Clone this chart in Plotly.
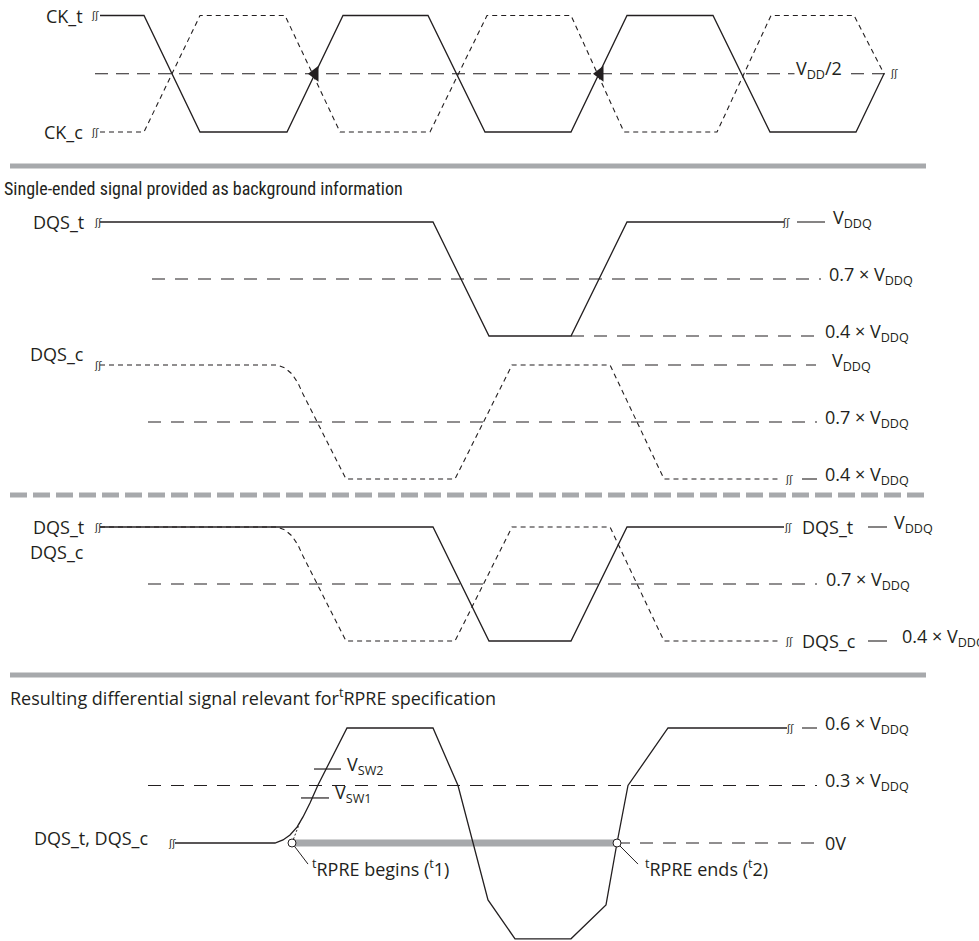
import plotly.graph_objects as go

# ---------------- data (time units along x, levels as fraction of supply) ----------------
# CK panel: 1 = high, 0 = low, 0.5 = VDD/2
ck_t_time = [100, 144, 200, 287, 343, 428, 485, 571, 627, 713, 770, 856, 884]
ck_t_level = [1, 1, 0, 0, 1, 1, 0, 0, 1, 1, 0, 0, 0.5]
ck_c_time = [100, 144, 200, 285, 340, 430, 487, 571, 624, 717, 771, 854, 884]
ck_c_level = [0, 0, 1, 1, 0, 0, 1, 1, 0, 0, 1, 1, 0.5]
ck_ref_time = [95, 893]
ck_ref_level = [0.5, 0.5]
ck_cross_time = [315, 600]
ck_cross_level = [0.5, 0.5]

# single-ended DQS (fraction of VDDQ)
dqs_t_time = [100, 433, 489, 571, 627, 784]
dqs_t_level = [1, 1, 0.4, 0.4, 1, 1]
dqs_c_time = [100, 277, 285, 292, 298, 303, 346, 455, 512, 610, 664, 781]
dqs_c_level = [1, 1, 0.984, 0.953, 0.905, 0.847, 0.4, 0.4, 1, 1, 0.4, 0.4]

se_t_ref07_time = [152, 821]
se_t_ref04_time = [571, 816]
se_c_ref10_time = [622, 816]
se_c_ref07_time = [148, 817]
comb_ref07_time = [148, 817]

# differential DQS_t - DQS_c (fraction of VDDQ)
diff_time = [175, 275, 283, 290, 297, 303, 310, 318, 347, 433, 458, 488, 515,
             571, 606, 617, 628, 668, 787]
diff_level = [0, 0, 0.016, 0.042, 0.083, 0.136, 0.209, 0.303, 0.6, 0.6, 0.3, -0.297, -0.5,
              -0.5, -0.323, 0, 0.3, 0.6, 0.6]
diff_ref03_time = [148, 817]
diff_ref0_time = [617, 816]
rpre_time = [292, 617]
rpre_level = [0, 0]
rpre_extrap_time = [292, 300]
rpre_extrap_level = [0, 0.11]
vsw1_time = [301, 329]
vsw1_level = [0.235, 0.235]
vsw2_time = [314, 341]
vsw2_level = [0.386, 0.386]
lead1_time = [292, 308]
lead2_time = [617, 638]
lead_level = [0, -0.11]

# ---------------- styling ----------------
W, H = 979, 941
INK = "#231f20"
GRAY = "#a7a9ac"
FONT = "Open Sans"
NARROW = "Liberation Sans Narrow, Roboto Condensed, Roboto"
LONG = "13px,10px"
SHORT = "5px,4px"
FS = 18


def yr(la, pa, lb, pb):
    k = (la - lb) / (pb - pa)
    return [la - (H - pa) * k, la + pa * k]


fig = go.Figure()


def line(x, y, ax, dash="solid", width=1.2, color=INK):
    fig.add_trace(go.Scatter(x=x, y=y, yaxis=ax, mode="lines", hoverinfo="skip",
                             line=dict(color=color, width=width, dash=dash)))


# CK panel
line(ck_ref_time, ck_ref_level, "y", dash="13px,8px", width=1.1)
line(ck_c_time, ck_c_level, "y", dash=SHORT, width=1.1)
line(ck_t_time, ck_t_level, "y", width=1.3)
fig.add_trace(go.Scatter(x=ck_cross_time, y=ck_cross_level, yaxis="y", mode="markers",
                         hoverinfo="skip",
                         marker=dict(symbol="triangle-left", size=14, color=INK)))

# single-ended DQS_t
line(se_t_ref07_time, [0.7, 0.7], "y2", dash=LONG, width=1.1)
line(se_t_ref04_time, [0.4, 0.4], "y2", dash=LONG, width=1.1)
line(dqs_t_time, dqs_t_level, "y2", width=1.3)
# single-ended DQS_c
line(se_c_ref10_time, [1, 1], "y3", dash=LONG, width=1.1)
line(se_c_ref07_time, [0.7, 0.7], "y3", dash=LONG, width=1.1)
line(dqs_c_time, dqs_c_level, "y3", dash=SHORT, width=1.1)
# combined
line(comb_ref07_time, [0.7, 0.7], "y4", dash=LONG, width=1.1)
line(dqs_c_time, dqs_c_level, "y4", dash=SHORT, width=1.1)
line(dqs_t_time, dqs_t_level, "y4", width=1.3)
# differential
line(rpre_time, rpre_level, "y5", width=7, color=GRAY)
line(diff_ref03_time, [0.3, 0.3], "y5", dash=LONG, width=1.1)
line(diff_ref0_time, [0, 0], "y5", dash=LONG, width=1.1)
line(rpre_extrap_time, rpre_extrap_level, "y5", dash="2px,2px", width=1)
line(diff_time, diff_level, "y5", width=1.3)
line(vsw1_time, vsw1_level, "y5", width=1.2)
line(vsw2_time, vsw2_level, "y5", width=1.2)
line(lead1_time, lead_level, "y5", width=1)
line(lead2_time, lead_level, "y5", width=1)
fig.add_trace(go.Scatter(x=rpre_time, y=rpre_level, yaxis="y5", mode="markers",
                         hoverinfo="skip",
                         marker=dict(symbol="circle", size=8, color="white",
                                     line=dict(color=INK, width=1))))

ann = []


def text(t, x, y, ax, xanchor="left", yshift=0, size=FS, bg=None, family=FONT):
    d = dict(text=t, x=x, y=y, xref="x", yref=ax, xanchor=xanchor, yanchor="middle",
             yshift=yshift, showarrow=False, font=dict(family=family, size=size, color=INK))
    if bg:
        d["bgcolor"] = bg
    ann.append(d)


VDDQ = "V<sub>DDQ</sub>"
SUBUP = 4
# left labels
text("CK_t", 85, 1, "y", xanchor="right")
text("CK_c", 85, 0, "y", xanchor="right")
text("DQS_t", 86, 1, "y2", xanchor="right")
text("DQS_c", 86, 1, "y3", xanchor="right", yshift=11)
text("DQS_t", 86, 1, "y4", xanchor="right")
text("DQS_c", 86, 1, "y4", xanchor="right", yshift=-25)
text("DQS_t, DQS_c", 150, 0, "y5", xanchor="right", yshift=5)

# break marks
breaks = [(95, 1, "y"), (95, 0, "y"), (894, 0.5, "y"),
          (98, 1, "y2"), (786, 1, "y2"), (98, 1, "y3"), (789, 0.4, "y3"),
          (98, 1, "y4"), (788, 1, "y4"), (789, 0.4, "y4"),
          (172, 0, "y5"), (790, 0.6, "y5")]
for bx, by, bax in breaks:
    text("ʃʃ", bx, by, bax, xanchor="center", size=10, family="DejaVu Sans")

# right labels
text("V<sub>DD</sub>/2", 794, 0.5, "y", bg="white", yshift=SUBUP)
text(VDDQ, 831, 1, "y2", yshift=SUBUP)
text("0.7 × " + VDDQ, 827, 0.7, "y2", yshift=SUBUP)
text("0.4 × " + VDDQ, 823, 0.4, "y2", yshift=SUBUP)
text(VDDQ, 830, 1, "y3", yshift=SUBUP)
text("0.7 × " + VDDQ, 823, 0.7, "y3", yshift=SUBUP)
text("0.4 × " + VDDQ, 823, 0.4, "y3", yshift=SUBUP)
text("DQS_t", 800, 1, "y4")
text(VDDQ, 892, 1, "y4", yshift=SUBUP)
text("0.7 × " + VDDQ, 824, 0.7, "y4", yshift=SUBUP)
text("DQS_c", 800, 0.4, "y4")
text("0.4 × " + VDDQ, 900, 0.4, "y4", yshift=SUBUP)
text("0.6 × " + VDDQ, 823, 0.6, "y5", yshift=SUBUP)
text("0.3 × " + VDDQ, 823, 0.3, "y5", yshift=SUBUP)
text("0V", 823, 0, "y5")
text("V<sub>SW2</sub>", 345, 0.386, "y5", yshift=SUBUP)
text("V<sub>SW1</sub>", 333, 0.235, "y5", yshift=SUBUP)
text("<sup>t</sup>RPRE begins (<sup>t</sup>1)", 310, -0.13, "y5")
text("<sup>t</sup>RPRE ends (<sup>t</sup>2)", 643, -0.13, "y5")

# section headings
ann.append(dict(text="Single-ended signal provided as background information", x=2,
                y=1 - 189 / H, xref="x", yref="paper", xanchor="left", yanchor="middle",
                showarrow=False, font=dict(family=NARROW, size=18, color=INK)))
ann.append(dict(text="Resulting differential signal relevant for<sup>t</sup>RPRE specification",
                x=8, y=1 - 697 / H, xref="x", yref="paper", xanchor="left",
                yanchor="middle", showarrow=False,
                font=dict(family=FONT, size=FS, color=INK)))

shapes = []
for py, dash in [(166, "solid"), (495, "17px,6px"), (675, "solid")]:
    shapes.append(dict(type="line", xref="x", yref="paper", x0=10, x1=926,
                       y0=1 - py / H, y1=1 - py / H, line=dict(color=GRAY, width=5, dash=dash)))
for x0, x1, ly, ax in [(797, 825, 1, "y2"), (802, 817, 0.4, "y3"), (868, 887, 1, "y4"),
                       (868, 887, 0.4, "y4"), (802, 817, 0.6, "y5")]:
    shapes.append(dict(type="line", xref="x", yref=ax, x0=x0, x1=x1, y0=ly, y1=ly,
                       line=dict(color=INK, width=1.1)))

ax_common = dict(visible=False, fixedrange=True, domain=[0, 1])
fig.update_layout(
    width=W, height=H, margin=dict(l=0, r=0, t=0, b=0),
    paper_bgcolor="white", plot_bgcolor="white", showlegend=False,
    xaxis=dict(range=[0, W], visible=False, fixedrange=True),
    yaxis=dict(range=yr(1, 15.5, 0, 132), **ax_common),
    yaxis2=dict(range=yr(1, 222, 0.4, 336), overlaying="y", **ax_common),
    yaxis3=dict(range=yr(1, 365, 0.4, 479), overlaying="y", **ax_common),
    yaxis4=dict(range=yr(1, 527, 0.4, 641), overlaying="y", **ax_common),
    yaxis5=dict(range=yr(0.6, 728, 0, 843), overlaying="y", **ax_common),
    annotations=ann, shapes=shapes,
)

fig.write_html("out.html", config={"displayModeBar": False},
               post_script="document.body.style.margin='0px';")
